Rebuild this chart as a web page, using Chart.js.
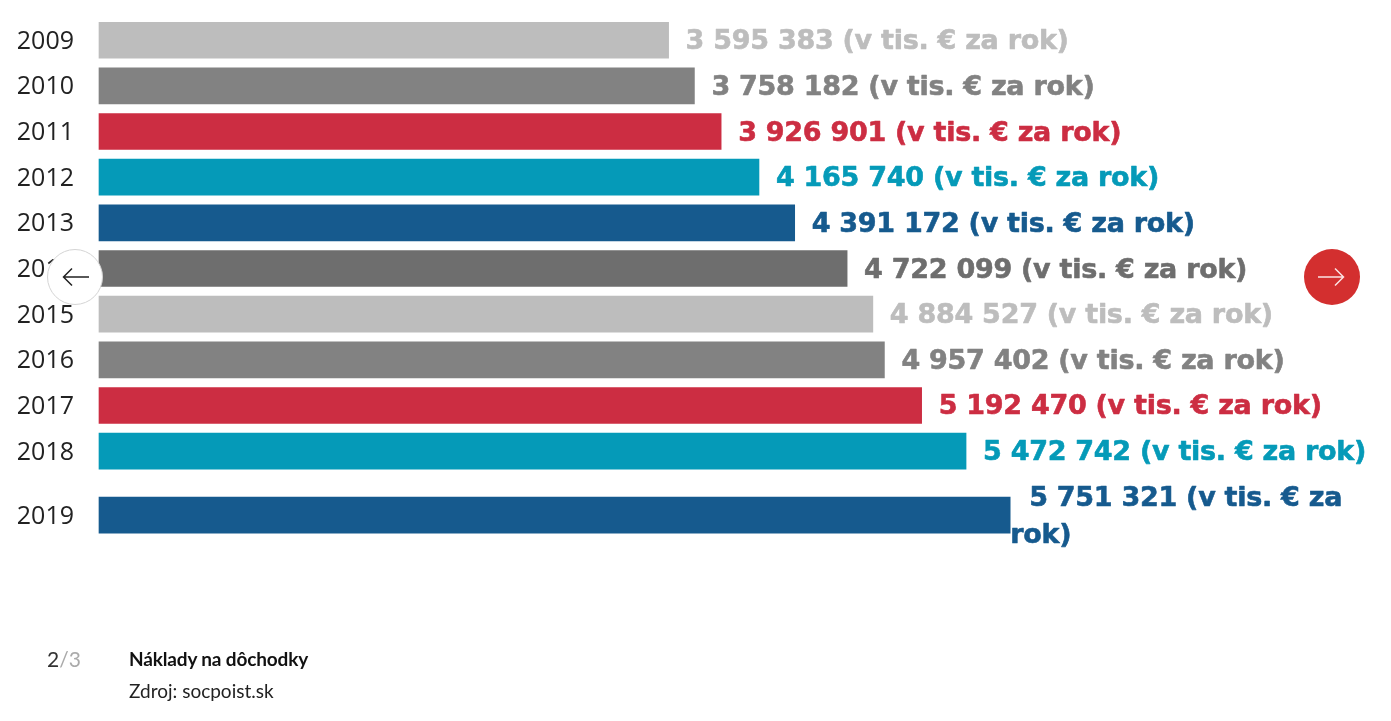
<!DOCTYPE html>
<html lang="sk"><head><meta charset="utf-8">
<script src="https://cdn.jsdelivr.net/npm/chart.js@4"></script>
<style>
html,body{margin:0;padding:0;background:#fff;overflow:hidden}
#wrap{position:relative;width:1391px;height:721px}
canvas{position:absolute;left:0;top:0}
.nav{position:absolute;left:0;top:0}
.t{position:absolute;font-family:"Lato",sans-serif;font-size:19px;line-height:22px;white-space:nowrap;color:#111}
</style></head><body>
<div id="wrap">
<canvas id="c" width="1391" height="721"></canvas>
<svg class="nav" width="1391" height="721">
<circle cx="75" cy="277" r="27.5" fill="#fff" stroke="#d4d4d4" stroke-width="1"/>
<path d="M89 277H64M72 268.500L63.500 277L72 285.500" fill="none" stroke="#222" stroke-width="1.500"/>
<circle cx="1332" cy="277" r="28" fill="#d32f2f"/>
<path d="M1318 277H1343M1335 268.500L1343.500 277L1335 285.500" fill="none" stroke="#fbe3e3" stroke-width="1.500"/>
</svg>
<div class="t" style="left:47px;top:648px;font-size:21px;color:#333">2<span style="color:#aaa">/3</span></div>
<div class="t" style="left:129px;top:648px;font-weight:700;letter-spacing:-0.15px;color:#111">Náklady na dôchodky</div>
<div class="t" style="left:129px;top:680px;color:#222">Zdroj: socpoist.sk</div>
</div>
<script>
const years=[2009,2010,2011,2012,2013,2014,2015,2016,2017,2018,2019];
const costs=[3595383,3758182,3926901,4165740,4391172,4722099,4884527,4957402,5192470,5472742,5751321];
const rowSlots=[0,1,2,3,4,5,6,7,8,9,10.4];
const barColors=['#bdbdbd','#828282','#cc2d42','#059ab8','#165a8e','#6e6e6e','#bdbdbd','#828282','#cc2d42','#059ab8','#165a8e'];
const unit='(v tis. € za rok)';
const fmt=v=>String(v).replace(/\B(?=(\d{3})+$)/g,' ');
const labelFont='bold 27px "DejaVu Sans"';
const valueLabels={id:'valueLabels',afterDatasetsDraw(ch){
  const g=ch.ctx,m=ch.getDatasetMeta(0);
  g.save();g.font=labelFont;g.letterSpacing='-0.28px';g.textBaseline='middle';g.textAlign='left';g.lineWidth=0.6;g.lineJoin='round';
  const put=(t,x,y)=>{g.fillText(t,x,y);g.strokeText(t,x,y);};
  m.data.forEach((b,i)=>{
    g.fillStyle=barColors[i];g.strokeStyle=barColors[i];
    const s=fmt(costs[i])+' '+unit,x=b.x+17;
    if(x+g.measureText(s).width>1375){
      put(s.replace(/ rok\)$/,''),x+2,b.y-16);
      put('rok)',b.x,b.y+21);
    }else put(s,x,b.y+2);
  });
  g.restore();
}};
new Chart(document.getElementById('c'),{
  type:'bar',
  data:{datasets:[{data:costs.map((v,i)=>({x:v,y:rowSlots[i]})),backgroundColor:barColors,barThickness:36,borderWidth:0,clip:false}]},
  options:{
    indexAxis:'y',responsive:false,animation:false,events:[],
    layout:{padding:0},
    plugins:{legend:{display:false},tooltip:{enabled:false}},
    scales:{
      x:{type:'linear',display:false,min:0,max:8155000},
      y:{type:'linear',offset:false,bounds:'data',reverse:true,min:-0.18,max:14.21,
        grid:{display:false},border:{display:false},
        afterBuildTicks(s){s.ticks=rowSlots.map(v=>({value:v}));},
        afterFit(s){s.width=99;},
        ticks:{autoSkip:false,color:'#222',padding:17,labelOffset:1.5,font:{family:'"Open Sans"',size:25},
          callback:v=>{const i=rowSlots.indexOf(v);return i<0?'':String(years[i]);}}
      }
    }
  },
  plugins:[valueLabels]
});
</script>
</body></html>
